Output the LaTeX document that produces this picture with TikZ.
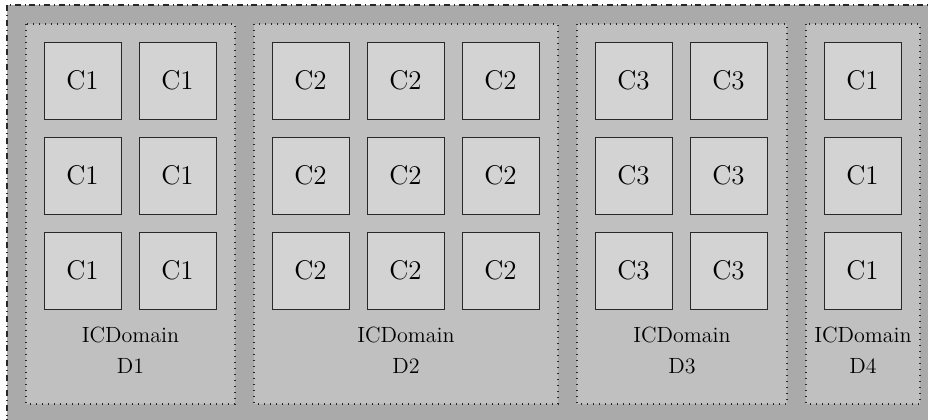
\documentclass[tikz,border=0pt]{standalone}
\definecolor{outerfill}{RGB}{170,170,170}
\definecolor{domfill}{RGB}{192,192,192}
\definecolor{boxfill}{RGB}{211,211,211}
\definecolor{edge}{RGB}{40,40,40}
\tikzset{
  outerbox/.style={draw=edge, fill=outerfill, dash dot, line width=0.6pt},
  dombox/.style={draw=edge, fill=domfill, dash pattern=on 0.7pt off 2.3pt, line width=0.7pt},
  cell/.style={draw=edge, fill=boxfill, line width=0.5pt, minimum width=38.5pt, minimum height=38.5pt, inner sep=0pt, font=\fontsize{13.5}{16}\selectfont},
  domlabel/.style={align=center, font=\fontsize{11}{15.5}\selectfont, inner sep=0pt}
}
\begin{document}
\begin{tikzpicture}[x=0.5pt, y=-0.5pt]
\useasboundingbox (0,0) rectangle (928,419);
\clip (0,0) rectangle (928,419);
\fill[white] (0,0) rectangle (928,419);
\draw[outerbox] (7,5) rectangle (960,450);
% domains
\draw[dombox] (26,24) rectangle (235,404);
\draw[dombox] (254,24) rectangle (558,404);
\draw[dombox] (577,24) rectangle (787,404);
\draw[dombox] (806,24) rectangle (920,404);
% cells
\foreach \r/\y in {1/80.5, 2/175.5, 3/270.5} {
  \foreach \c/\x in {1/82.5, 2/177.5} { \node[cell] (a\r\c) at (\x,\y) {C1}; }
  \foreach \c/\x in {1/310.5, 2/405.5, 3/500.5} { \node[cell] (b\r\c) at (\x,\y) {C2}; }
  \foreach \c/\x in {1/633.5, 2/728.5} { \node[cell] (c\r\c) at (\x,\y) {C3}; }
  \node[cell] (d\r) at (862.5,\y) {C1};
}
\node[domlabel, anchor=base] (l1) at (130.5,373) {ICDomain\\D1};
\node[domlabel, anchor=base] (l2) at (406,373) {ICDomain\\D2};
\node[domlabel, anchor=base] (l3) at (682,373) {ICDomain\\D3};
\node[domlabel, anchor=base] (l4) at (863,373) {ICDomain\\D4};
\end{tikzpicture}
\end{document}
